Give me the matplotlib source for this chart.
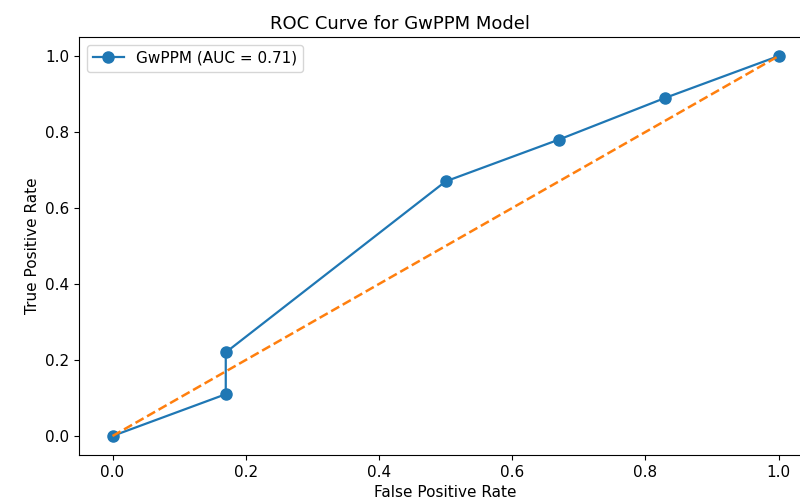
import matplotlib

matplotlib.use("Agg")
import matplotlib.pyplot as plt

# ROC points
fpr = [0.0, 0.17, 0.17, 0.50, 0.67, 0.83, 1.0]
tpr = [0.0, 0.11, 0.22, 0.67, 0.78, 0.89, 1.0]
auc = 0.71
model_name = "GwPPM"

fig = plt.figure(figsize=(8, 5), dpi=100)
# axes run slightly past the right edge, as in the cropped reference
ax = fig.add_axes([0.099, 0.09, 0.916, 0.836])

ax.plot(fpr, tpr, marker="o", markersize=8, linewidth=1.6,
        color="#1f77b4", label=f"{model_name} (AUC = {auc:.2f})")
ax.plot([0, 1], [0, 1], "--", color="#ff7f0e", linewidth=1.8)

ax.set_xlim(-0.05, 1.05)
ax.set_ylim(-0.05, 1.05)
ax.set_xticks([0.0, 0.2, 0.4, 0.6, 0.8, 1.0])
ax.set_yticks([0.0, 0.2, 0.4, 0.6, 0.8, 1.0])
ax.spines["right"].set_visible(False)
ax.tick_params(labelsize=11)
ax.set_xlabel("False Positive Rate", fontsize=11, labelpad=4)
ax.set_ylabel("True Positive Rate", fontsize=11)
ax.set_title(f"ROC Curve for {model_name} Model", fontsize=13, x=0.438)
ax.legend(loc="upper left", fontsize=11)

fig.savefig("out.png", dpi=100)
